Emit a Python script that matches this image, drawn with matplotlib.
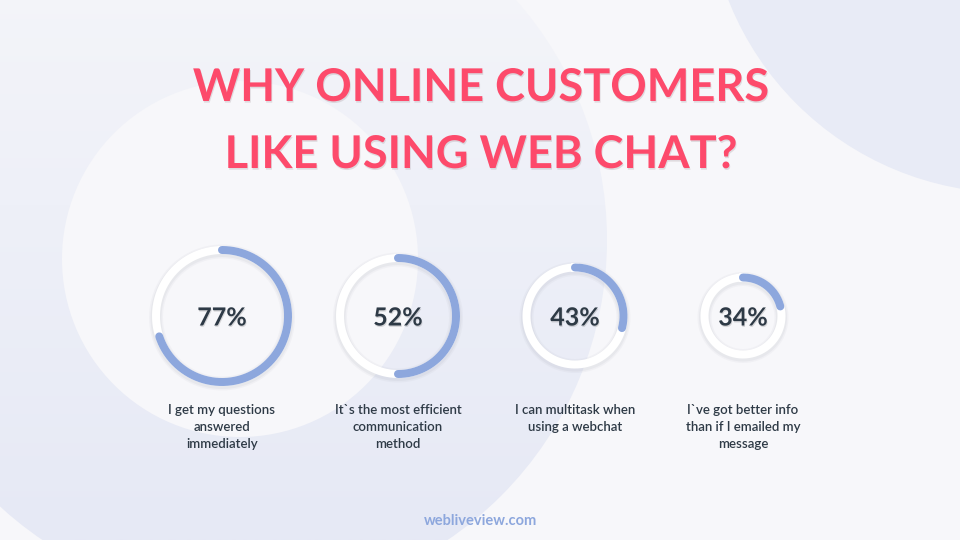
import numpy as np
import matplotlib
matplotlib.use("Agg")
import matplotlib.pyplot as plt
from matplotlib.patches import Circle
from matplotlib.colors import LinearSegmentedColormap
import matplotlib.patheffects as pe

# ---- data ----
title_lines = ["WHY ONLINE CUSTOMERS", "LIKE USING WEB CHAT?"]
values = [77, 52, 43, 34]                       # percentages shown in the rings
arc_share = [0.70, 0.50, 0.29, 0.21]            # share of each ring covered by the blue arc (as drawn)
labels = [
    "I get my questions\nanswered\nimmediately",
    "It`s the most efficient\ncommunication\nmethod",
    "I can multitask when\nusing a webchat",
    "I`ve got better info\nthan if I emailed my\nmessage",
]
footer = "webliveview.com"

# ---- layout / style ----
W, H = 960, 540
centers_x = [222, 398, 575, 743]
center_y = 316
radii = [66, 58, 48.5, 38.5]
ring_px = 8
BG = "#f7f7fa"
BLUE_BOTTOM = "#e6e9f5"
TR_BG = "#e8ebf6"
ARC = "#8da7dd"
TITLE = "#fd4a6b"
DARK = "#2e3a46"
FONT = ["Lato", "DejaVu Sans"]

fig = plt.figure(figsize=(W / 100, H / 100), dpi=100)
fig.patch.set_facecolor(BG)
ax = fig.add_axes([0, 0, 1, 1])
ax.axis("off")
ax.set_facecolor(BG)

px2pt = 72 / 100

# background shapes: big gradient circle
cmap = LinearSegmentedColormap.from_list("bg", [BG, "#eef0f8", BLUE_BOTTOM])
grad = np.linspace(0, 1, 256).reshape(-1, 1)
big = Circle((245, 240), 362, facecolor="none", edgecolor="none")
ax.add_patch(big)
im = ax.imshow(grad, extent=[0, W, H, -130], cmap=cmap, aspect="auto", zorder=0)
im.set_clip_path(big)
ax.add_patch(Circle((240, 259), 178, facecolor=BG, edgecolor="none", zorder=0.5))
ax.add_patch(Circle((1012, -112), 305, facecolor=TR_BG, edgecolor="none", zorder=0.5))
ax.set_xlim(0, W)
ax.set_ylim(H, 0)
ax.set_aspect("equal")

# title
shadow = [pe.SimplePatchShadow(offset=(0.6, -1.2), shadow_rgbFace="#9a8a90", alpha=0.25), pe.Normal()]
for i, line in enumerate(title_lines):
    t = ax.text(481, 101 + i * 67, line, ha="center", va="baseline", fontsize=32.5,
                fontweight="bold", color=TITLE, family=FONT, zorder=5)
    t.set_path_effects(shadow)

# rings
for cx, r, share, val, lab in zip(centers_x, radii, arc_share, values, labels):
    full = np.linspace(0, 2 * np.pi, 400)
    for w, a in [(ring_px + 6, 0.05), (ring_px + 3, 0.07)]:
        ax.plot(cx + r * np.sin(full), center_y - r * np.cos(full) + 1.5,
                color="#7a8090", alpha=a, lw=w * px2pt, zorder=2, solid_capstyle="butt")
    ax.plot(cx + r * np.sin(full), center_y - r * np.cos(full),
            color="white", lw=ring_px * px2pt, zorder=3)
    t = np.linspace(0, share * 2 * np.pi, 300)
    ax.plot(cx + r * np.sin(t), center_y - r * np.cos(t), color=ARC,
            lw=ring_px * px2pt, solid_capstyle="round", zorder=4)
    txt = ax.text(cx, center_y + 9.5, f"{val}%", ha="center", va="baseline", fontsize=18,
                  fontweight="bold", color=DARK, family=FONT, zorder=5)
    txt.set_path_effects([pe.SimplePatchShadow(offset=(0.5, -1), shadow_rgbFace="#555", alpha=0.2), pe.Normal()])
    for j, line in enumerate(lab.split("\n")):
        ax.text(cx, 414 + 17 * j, line, ha="center", va="baseline", fontsize=9.5, fontweight="semibold",
                color=DARK, family=FONT, zorder=5)

ax.text(480, 525, footer, ha="center", va="baseline", fontsize=10.5, fontweight="bold",
        color=ARC, family=FONT, zorder=5)

fig.savefig("out.png", dpi=100, facecolor=BG)
